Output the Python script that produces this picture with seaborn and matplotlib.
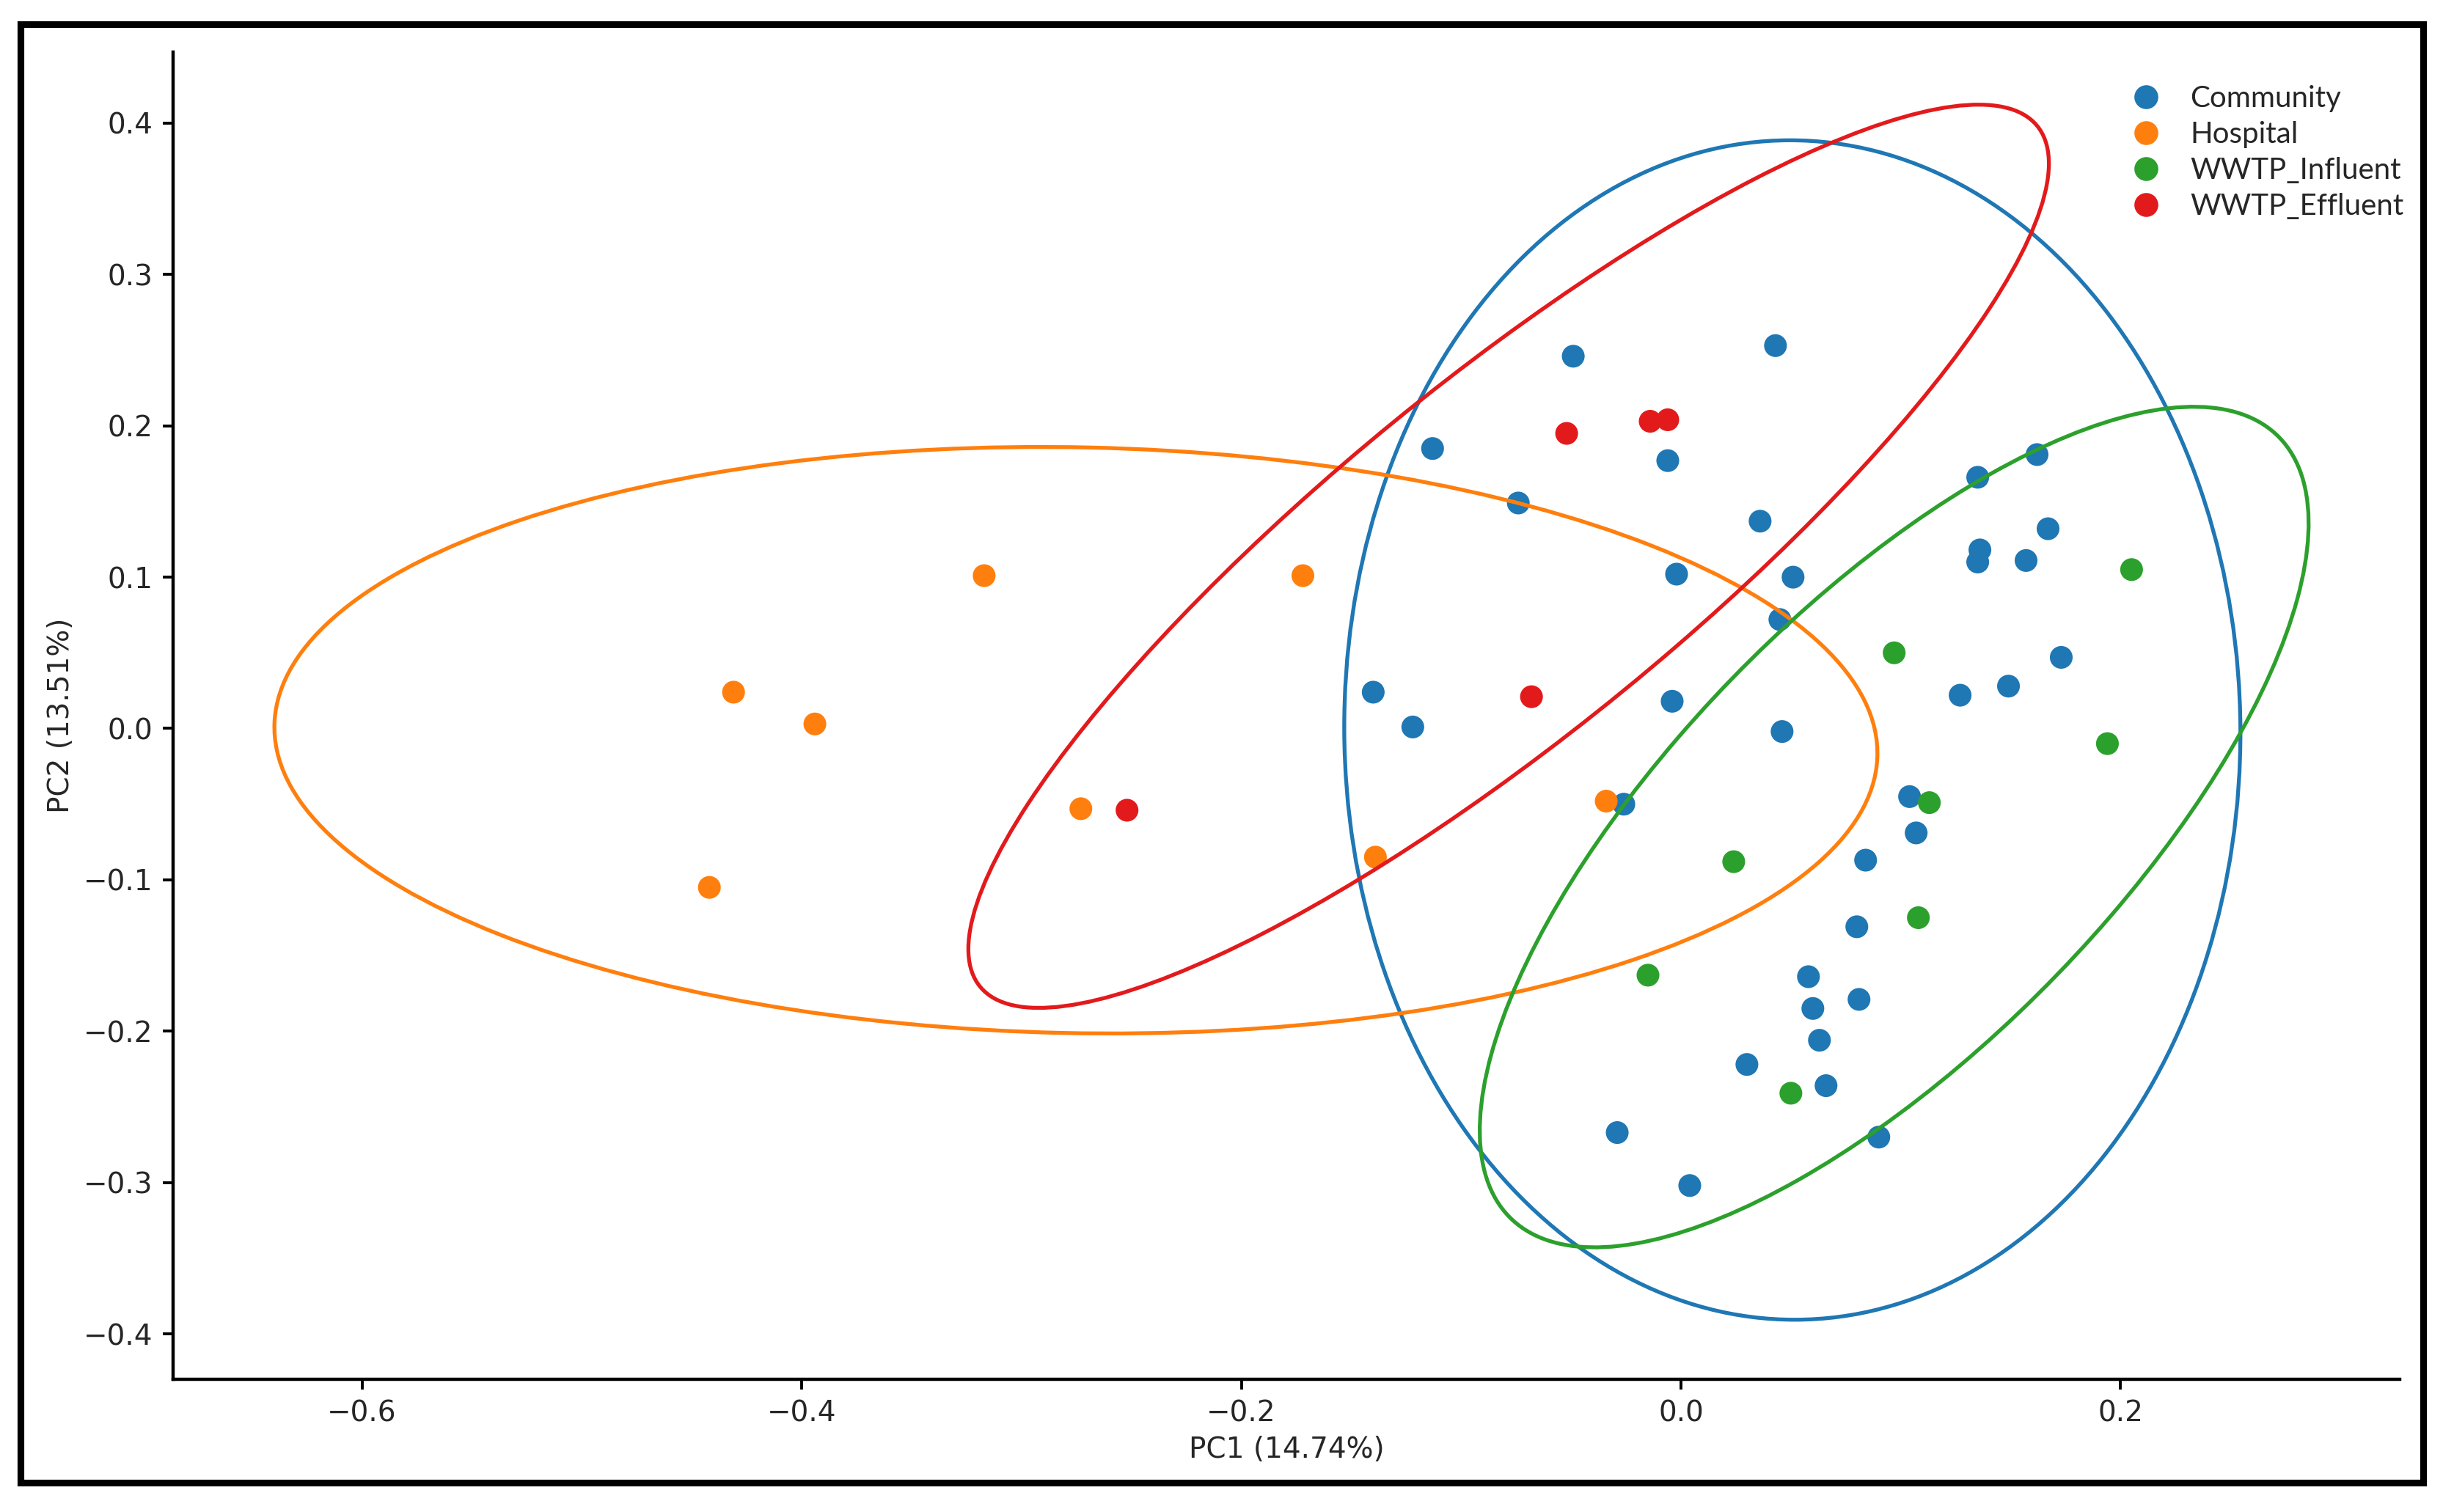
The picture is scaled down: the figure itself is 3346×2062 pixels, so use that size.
import numpy as np
import pandas as pd
import matplotlib
matplotlib.use("Agg")
import matplotlib.pyplot as plt
from matplotlib.patches import Ellipse, Rectangle
import seaborn as sns

# PCA scores
community_pc1 = [-0.049, 0.043, -0.113, -0.006, -0.074, 0.036, -0.002, 0.051, 0.045,
                 0.135, 0.162, 0.167, 0.136, 0.135, 0.157, 0.173, 0.149, 0.127,
                 -0.140, -0.122, -0.004, 0.046, -0.026, 0.104, 0.107, 0.084,
                 0.080, 0.058, 0.060, 0.081, 0.063, 0.030, 0.066, -0.029, 0.090, 0.004]
community_pc2 = [0.246, 0.253, 0.185, 0.177, 0.149, 0.137, 0.102, 0.100, 0.072,
                 0.166, 0.181, 0.132, 0.118, 0.110, 0.111, 0.047, 0.028, 0.022,
                 0.024, 0.001, 0.018, -0.002, -0.050, -0.045, -0.069, -0.087,
                 -0.131, -0.164, -0.185, -0.179, -0.206, -0.222, -0.236, -0.267, -0.270, -0.302]

hospital_pc1 = [-0.317, -0.431, -0.394, -0.442, -0.172, -0.273, -0.139, -0.034]
hospital_pc2 = [0.101, 0.024, 0.003, -0.105, 0.101, -0.053, -0.085, -0.048]

influent_pc1 = [0.205, 0.097, 0.194, 0.113, 0.024, 0.108, -0.015, 0.050]
influent_pc2 = [0.105, 0.050, -0.010, -0.049, -0.088, -0.125, -0.163, -0.241]

effluent_pc1 = [-0.052, -0.014, -0.006, -0.068, -0.252]
effluent_pc2 = [0.195, 0.203, 0.204, 0.021, -0.054]

groups = ["Community", "Hospital", "WWTP_Influent", "WWTP_Effluent"]
colors = {"Community": "#1f77b4", "Hospital": "#ff7f0e",
          "WWTP_Influent": "#2ca02c", "WWTP_Effluent": "#e31a1c"}

df = pd.concat([
    pd.DataFrame({"PC1": community_pc1, "PC2": community_pc2, "Group": "Community"}),
    pd.DataFrame({"PC1": hospital_pc1, "PC2": hospital_pc2, "Group": "Hospital"}),
    pd.DataFrame({"PC1": influent_pc1, "PC2": influent_pc2, "Group": "WWTP_Influent"}),
    pd.DataFrame({"PC1": effluent_pc1, "PC2": effluent_pc2, "Group": "WWTP_Effluent"}),
], ignore_index=True)


def confidence_ellipse(x, y, ax, color, chi2_val=5.991):
    """95% confidence ellipse from the sample covariance."""
    cov = np.cov(x, y)
    vals, vecs = np.linalg.eigh(cov)
    order = vals.argsort()[::-1]
    vals, vecs = vals[order], vecs[:, order]
    angle = np.degrees(np.arctan2(vecs[1, 0], vecs[0, 0]))
    width, height = 2 * np.sqrt(chi2_val * vals)
    ell = Ellipse((np.mean(x), np.mean(y)), width, height, angle=angle,
                  facecolor="none", edgecolor=color, linewidth=1.9)
    ax.add_patch(ell)


sns.set_style("ticks")
plt.rcParams["font.family"] = ["DejaVu Sans"]

fig = plt.figure(figsize=(16.73, 10.31), dpi=200)
ax = fig.add_axes([0.0705, 0.0878, 0.9074, 0.8778])

sns.scatterplot(data=df, x="PC1", y="PC2", hue="Group", hue_order=groups,
                palette=colors, s=125, linewidth=0, ax=ax)

for g in groups:
    sub = df[df["Group"] == g]
    confidence_ellipse(sub["PC1"].values, sub["PC2"].values, ax, colors[g])

ax.set_xlim(-0.686, 0.327)
ax.set_ylim(-0.430, 0.447)
ax.set_xticks([-0.6, -0.4, -0.2, 0.0, 0.2])
ax.set_yticks([-0.4, -0.3, -0.2, -0.1, 0.0, 0.1, 0.2, 0.3, 0.4])
ax.set_xlabel("PC1 (14.74%)", fontsize=14)
ax.set_ylabel("PC2 (13.51%)", fontsize=14)
ax.tick_params(labelsize=14, length=5, width=1.4, pad=5, color="black")
for side in ["left", "bottom"]:
    ax.spines[side].set_linewidth(1.6)
    ax.spines[side].set_color("black")
sns.despine(ax=ax)

leg = ax.legend(loc="upper right", bbox_to_anchor=(1.007, 0.984), borderaxespad=0,
                frameon=False, handletextpad=0.5, labelspacing=0.3, markerscale=1.05,
                prop={"family": "Lato", "size": 14.5})

# black frame around the whole figure
fig.patches.append(Rectangle((0.0085, 0.0192), 0.9788, 0.9646, transform=fig.transFigure,
                             fill=False, edgecolor="black", linewidth=3.3))

fig.savefig("out.png", dpi=200)
